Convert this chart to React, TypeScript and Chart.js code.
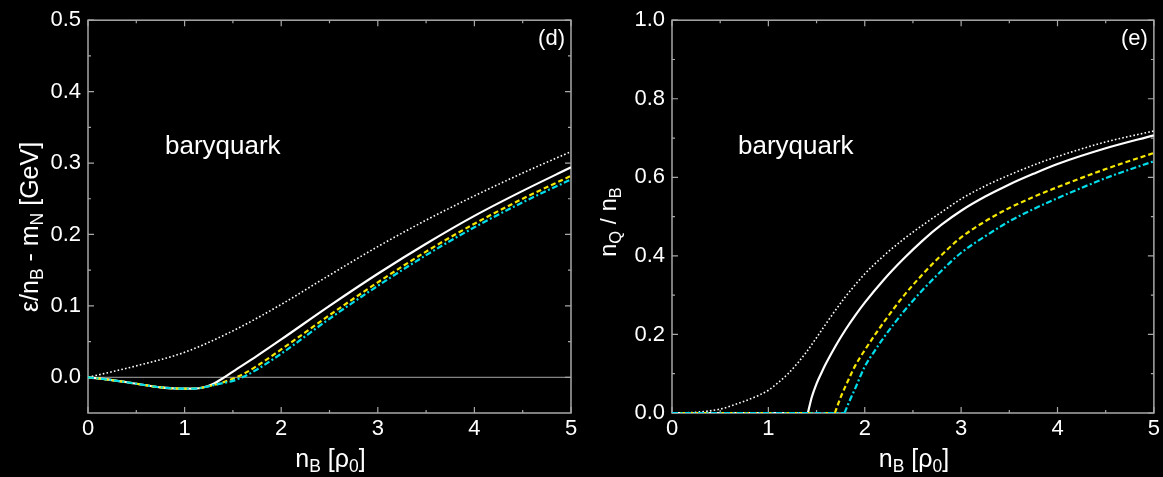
import React, { useEffect, useRef } from 'react';
import { Chart, registerables } from 'chart.js';

Chart.register(...registerables);

const FONT = '"Liberation Sans", Arial, Helvetica, sans-serif';
const FRAME = '#a8a8a8';
const WHITE = '#ffffff';
const YELLOW = '#f5e600';
const CYAN = '#00dcea';

// ---------- panel (d): energy per baryon ----------
const D_X_TICKS = [0, 1, 2, 3, 4, 5];
const D_X_MINOR = [0.5, 1.5, 2.5, 3.5, 4.5];
const D_Y_TICKS = [0, 0.1, 0.2, 0.3, 0.4, 0.5];
const D_Y_MINOR = [0.05, 0.15, 0.25, 0.35, 0.45];

const D_DOT_X = [0, 0.5, 1.0, 1.5, 2.0, 2.5, 3.0, 3.5, 4.0, 4.5, 5.0];
const D_DOT_Y = [0, 0.016, 0.035, 0.065, 0.102, 0.143, 0.183, 0.22, 0.254, 0.286, 0.316];

const D_SOLID_X = [0, 0.25, 0.5, 0.75, 1.0, 1.1, 1.2, 1.3, 1.4, 1.5, 1.75, 2.0, 2.5, 3.0, 3.5, 4.0, 4.5, 5.0];
const D_SOLID_Y = [0, -0.004, -0.009, -0.014, -0.016, -0.016, -0.014, -0.009, -0.001, 0.008, 0.03, 0.053, 0.1, 0.145, 0.187, 0.226, 0.261, 0.294];

const D_DASH_X = [0, 0.25, 0.5, 0.75, 1.0, 1.1, 1.2, 1.3, 1.4, 1.5, 1.6, 1.75, 2.0, 2.5, 3.0, 3.5, 4.0, 4.5, 5.0];
const D_DASH_Y = [0, -0.004, -0.009, -0.014, -0.016, -0.016, -0.014, -0.011, -0.007, -0.002, 0.004, 0.016, 0.039, 0.087, 0.133, 0.176, 0.215, 0.25, 0.282];

const D_DDOT_X = [0, 0.25, 0.5, 0.75, 1.0, 1.1, 1.2, 1.3, 1.4, 1.5, 1.6, 1.75, 2.0, 2.5, 3.0, 3.5, 4.0, 4.5, 5.0];
const D_DDOT_Y = [0, -0.004, -0.009, -0.014, -0.016, -0.016, -0.014, -0.011, -0.008, -0.005, 0.0, 0.011, 0.033, 0.082, 0.128, 0.171, 0.21, 0.245, 0.277];

const D_ZERO_X = [0, 5];
const D_ZERO_Y = [0, 0];

// ---------- panel (e): quark fraction ----------
const E_X_TICKS = [0, 1, 2, 3, 4, 5];
const E_X_MINOR = [0.5, 1.5, 2.5, 3.5, 4.5];
const E_Y_TICKS = [0, 0.2, 0.4, 0.6, 0.8, 1.0];
const E_Y_MINOR = [0.1, 0.3, 0.5, 0.7, 0.9];

const E_DOT_X = [0, 0.25, 0.5, 0.75, 0.9, 1.0, 1.1, 1.2, 1.3, 1.4, 1.5, 1.6, 1.7, 1.8, 1.9, 2.0, 2.2, 2.4, 2.6, 2.8, 3.0, 3.25, 3.5, 3.75, 4.0, 4.5, 5.0];
const E_DOT_Y = [0, 0.002, 0.01, 0.03, 0.045, 0.058, 0.077, 0.099, 0.126, 0.157, 0.192, 0.228, 0.263, 0.296, 0.326, 0.354, 0.401, 0.442, 0.478, 0.512, 0.545, 0.578, 0.606, 0.631, 0.653, 0.69, 0.718];

// flat (zero) part, then the rising branch after onset
const E_SOLID_FLAT_X = [0, 1.41];
const E_SOLID_FLAT_Y = [0, 0];
const E_SOLID_X = [1.41, 1.45, 1.5, 1.55, 1.6, 1.7, 1.8, 1.9, 2.0, 2.2, 2.4, 2.6, 2.8, 3.0, 3.25, 3.5, 3.75, 4.0, 4.5, 5.0];
const E_SOLID_Y = [0, 0.04, 0.075, 0.102, 0.127, 0.172, 0.212, 0.248, 0.281, 0.34, 0.392, 0.439, 0.48, 0.515, 0.551, 0.582, 0.609, 0.634, 0.674, 0.707];

const E_DASH_FLAT_X = [0, 1.69];
const E_DASH_FLAT_Y = [0, 0];
const E_DASH_X = [1.69, 1.75, 1.8, 1.86, 1.9, 2.0, 2.1, 2.2, 2.4, 2.6, 2.8, 3.0, 3.25, 3.5, 3.75, 4.0, 4.5, 5.0];
const E_DASH_Y = [0, 0.04, 0.068, 0.1, 0.12, 0.16, 0.197, 0.232, 0.297, 0.353, 0.403, 0.447, 0.488, 0.522, 0.55, 0.575, 0.621, 0.662];

const E_DDOT_FLAT_X = [0, 1.79];
const E_DDOT_FLAT_Y = [0, 0];
const E_DDOT_X = [1.79, 1.85, 1.9, 2.0, 2.1, 2.2, 2.4, 2.6, 2.8, 3.0, 3.25, 3.5, 3.75, 4.0, 4.5, 5.0];
const E_DDOT_Y = [0, 0.035, 0.062, 0.118, 0.157, 0.193, 0.257, 0.313, 0.363, 0.408, 0.45, 0.488, 0.519, 0.547, 0.598, 0.641];

type Pt = { x: number; y: number };
const pts = (xs: number[], ys: number[]): Pt[] => xs.map((x, i) => ({ x, y: ys[i] }));

type Part = { t: string; sub?: boolean };

function drawRich(ctx: CanvasRenderingContext2D, parts: Part[], size: number, cx: number, cy: number, rotate: boolean) {
  const subSize = size * 0.7;
  const big = `${size}px ${FONT}`;
  const small = `${subSize}px ${FONT}`;
  let total = 0;
  const widths = parts.map(p => {
    ctx.font = p.sub ? small : big;
    const w = ctx.measureText(p.t).width;
    total += w;
    return w;
  });
  ctx.save();
  ctx.translate(cx, cy);
  if (rotate) ctx.rotate(-Math.PI / 2);
  ctx.fillStyle = WHITE;
  ctx.textBaseline = 'alphabetic';
  ctx.textAlign = 'left';
  let x = -total / 2;
  parts.forEach((p, i) => {
    ctx.font = p.sub ? small : big;
    ctx.fillText(p.t, x, p.sub ? size * 0.2 : 0);
    x += widths[i];
  });
  ctx.restore();
}

type PanelCfg = {
  xMajor: number[];
  xMinor: number[];
  yMajor: number[];
  yMinor: number[];
  label: string;
  yTitle: Part[];
  yTitleSize: number;
  yTitleX: number;
  yTitleY: number;
  noteX: number;
};

function makePlugin(cfg: PanelCfg) {
  return {
    id: 'panelDecor',
    beforeDatasetsDraw(chart: any) {
      const { ctx, chartArea: a, scales } = chart;
      const xs = scales.x;
      const ys = scales.y;
      ctx.save();
      ctx.strokeStyle = FRAME;
      ctx.lineWidth = 1.5;
      ctx.strokeRect(a.left, a.top, a.right - a.left, a.bottom - a.top);
      ctx.lineWidth = 1.2;
      const tick = (px: number, len: number, vertical: boolean) => {
        ctx.beginPath();
        if (vertical) {
          ctx.moveTo(px, a.bottom); ctx.lineTo(px, a.bottom - len);
          ctx.moveTo(px, a.top); ctx.lineTo(px, a.top + len);
        } else {
          ctx.moveTo(a.left, px); ctx.lineTo(a.left + len, px);
          ctx.moveTo(a.right, px); ctx.lineTo(a.right - len, px);
        }
        ctx.stroke();
      };
      cfg.xMajor.forEach(v => tick(xs.getPixelForValue(v), 6, true));
      cfg.xMinor.forEach(v => tick(xs.getPixelForValue(v), 3, true));
      cfg.yMajor.forEach(v => tick(ys.getPixelForValue(v), 6, false));
      cfg.yMinor.forEach(v => tick(ys.getPixelForValue(v), 3, false));
      ctx.restore();
    },
    afterDraw(chart: any) {
      const { ctx, chartArea: a } = chart;
      ctx.save();
      ctx.fillStyle = WHITE;
      ctx.font = `22px ${FONT}`;
      ctx.textAlign = 'right';
      ctx.textBaseline = 'alphabetic';
      ctx.fillText(cfg.label, a.right - 6, 45);
      ctx.font = `26px ${FONT}`;
      ctx.textAlign = 'left';
      ctx.fillText('baryquark', cfg.noteX, 154);
      ctx.restore();
      drawRich(ctx, [{ t: 'n' }, { t: 'B', sub: true }, { t: ' [ρ' }, { t: '0', sub: true }, { t: ']' }], 25,
        (a.left + a.right) / 2 + 1, 467, false);
      drawRich(ctx, cfg.yTitle, cfg.yTitleSize, cfg.yTitleX, cfg.yTitleY, true);
    },
  };
}

function lineDs(data: Pt[], color: string, width: number, dash: number[], mono: boolean) {
  return {
    data,
    borderColor: color,
    backgroundColor: color,
    borderWidth: width,
    borderDash: dash,
    pointRadius: 0,
    pointHoverRadius: 0,
    fill: false,
    tension: 0,
    cubicInterpolationMode: mono ? 'monotone' : 'default',
  };
}

function makeConfig(datasets: any[], yMin: number, yMax: number, xTicks: number[], yTicks: number[],
  yWidth: number, padRight: number, plugin: any) {
  return {
    type: 'line',
    data: { datasets },
    options: {
      animation: false,
      responsive: false,
      maintainAspectRatio: false,
      devicePixelRatio: 1,
      layout: { padding: { top: 20, right: padRight, left: 0, bottom: 0 } },
      plugins: { legend: { display: false }, tooltip: { enabled: false } },
      events: [],
      scales: {
        x: {
          type: 'linear',
          min: 0,
          max: 5,
          grid: { display: false, drawTicks: false },
          border: { display: false },
          afterBuildTicks: (s: any) => { s.ticks = xTicks.map(v => ({ value: v })); },
          afterFit: (s: any) => { s.height = 64; },
          ticks: {
            color: WHITE,
            font: { family: FONT, size: 22 },
            padding: 3,
            maxRotation: 0,
            callback: (v: any) => String(Math.round(Number(v))),
          },
        },
        y: {
          type: 'linear',
          min: yMin,
          max: yMax,
          grid: { display: false, drawTicks: false },
          border: { display: false },
          afterBuildTicks: (s: any) => { s.ticks = yTicks.map(v => ({ value: v })); },
          afterFit: (s: any) => { s.width = yWidth; },
          ticks: {
            color: WHITE,
            font: { family: FONT, size: 22 },
            padding: 7,
            callback: (v: any) => Number(v).toFixed(1),
          },
        },
      },
    },
    plugins: [plugin],
  };
}

export default function App() {
  const leftRef = useRef<HTMLCanvasElement>(null);
  const rightRef = useRef<HTMLCanvasElement>(null);

  useEffect(() => {
    document.body.style.margin = '0';
    document.body.style.background = '#000';

    const CYAN_DASH = [6, 2.5, 2, 2.5];
    const YEL_DASH = [5, 3];
    const DOT_DASH = [1.6, 2.2];

    const leftSets = [
      lineDs(pts(D_DDOT_X, D_DDOT_Y), CYAN, 2.2, CYAN_DASH, true),
      lineDs(pts(D_DASH_X, D_DASH_Y), YELLOW, 2.2, YEL_DASH, true),
      lineDs(pts(D_SOLID_X, D_SOLID_Y), WHITE, 2.2, [], true),
      lineDs(pts(D_DOT_X, D_DOT_Y), WHITE, 1.6, DOT_DASH, true),
      lineDs(pts(D_ZERO_X, D_ZERO_Y), FRAME, 1, [], false),
    ];
    const rightSets = [
      lineDs(pts(E_DDOT_X, E_DDOT_Y), CYAN, 2.2, CYAN_DASH, true),
      lineDs(pts(E_DDOT_FLAT_X, E_DDOT_FLAT_Y), CYAN, 2.2, CYAN_DASH, false),
      lineDs(pts(E_DASH_X, E_DASH_Y), YELLOW, 2.2, YEL_DASH, true),
      lineDs(pts(E_DASH_FLAT_X, E_DASH_FLAT_Y), YELLOW, 2.2, YEL_DASH, false),
      lineDs(pts(E_SOLID_X, E_SOLID_Y), WHITE, 2.2, [], true),
      lineDs(pts(E_SOLID_FLAT_X, E_SOLID_FLAT_Y), WHITE, 2.2, [], false),
      lineDs(pts(E_DOT_X, E_DOT_Y), WHITE, 1.6, DOT_DASH, true),
    ];

    const leftPlugin = makePlugin({
      xMajor: D_X_TICKS, xMinor: D_X_MINOR, yMajor: D_Y_TICKS, yMinor: D_Y_MINOR,
      label: '(d)',
      yTitle: [{ t: 'ε/n' }, { t: 'B', sub: true }, { t: ' - m' }, { t: 'N', sub: true }, { t: ' [GeV]' }],
      yTitleSize: 25,
      yTitleX: 38, yTitleY: 227, noteX: 165,
    });
    const rightPlugin = makePlugin({
      xMajor: E_X_TICKS, xMinor: E_X_MINOR, yMajor: E_Y_TICKS, yMinor: E_Y_MINOR,
      label: '(e)',
      yTitle: [{ t: 'n' }, { t: 'Q', sub: true }, { t: ' / n' }, { t: 'B', sub: true }],
      yTitleSize: 23.5,
      yTitleX: 16, yTitleY: 222, noteX: 138,
    });

    const c1 = new Chart(leftRef.current as HTMLCanvasElement,
      makeConfig(leftSets, -0.05, 0.5, D_X_TICKS, D_Y_TICKS, 88, 29, leftPlugin) as any);
    const c2 = new Chart(rightRef.current as HTMLCanvasElement,
      makeConfig(rightSets, 0, 1.0, E_X_TICKS, E_Y_TICKS, 72, 7, rightPlugin) as any);
    return () => { c1.destroy(); c2.destroy(); };
  }, []);

  return (
    <div style={{ position: 'fixed', left: 0, top: 0, width: 1163, height: 477, background: '#000', overflow: 'hidden' }}>
      <canvas ref={leftRef} width={600} height={477} style={{ position: 'absolute', left: 0, top: 0, width: 600, height: 477 }} />
      <canvas ref={rightRef} width={563} height={477} style={{ position: 'absolute', left: 600, top: 0, width: 563, height: 477 }} />
    </div>
  );
}
